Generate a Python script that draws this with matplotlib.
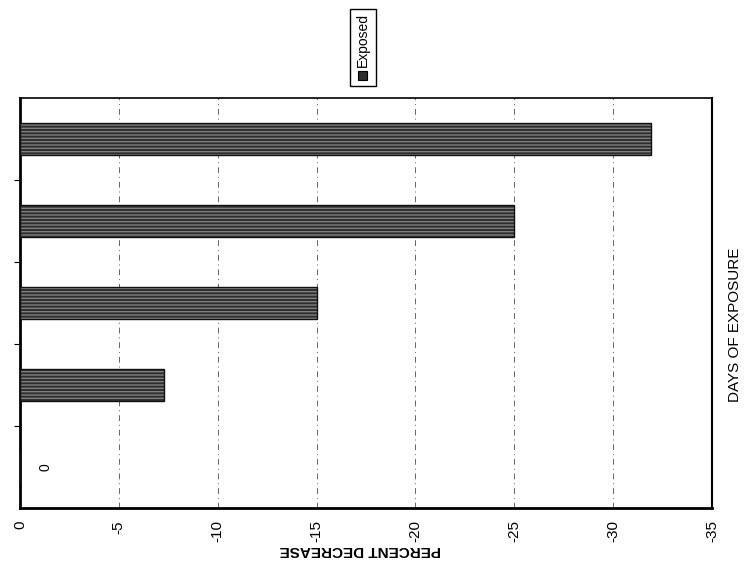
import matplotlib
matplotlib.use("Agg")
import matplotlib.pyplot as plt
from matplotlib.patches import Rectangle

plt.rcParams["font.family"] = ["Liberation Sans", "DejaVu Sans"]

# Data
categories = ["Day 0", "Day 1", "Day 2", "Day 3", "Day 4"]
exposed = [0.0, -7.3, -15.0, -25.0, -31.9]
x_ticks = [0, -5, -10, -15, -20, -25, -30, -35]
series_name = "Exposed"

fig = plt.figure(figsize=(7.54, 5.69), dpi=100)
ax = fig.add_axes([20 / 754, 61 / 569, 692 / 754, 410 / 569])

ypos = list(range(len(categories)))
bars = ax.barh(ypos, exposed, height=0.4, color="#2e2e2e", edgecolor="#111111",
               linewidth=1.0, hatch="-----", zorder=3)
for b in bars:
    b._hatch_color = (0.5, 0.5, 0.5, 1.0)

# zero value label
for y, v in zip(ypos, exposed):
    if v == 0:
        ax.text(-1.3, y, "0", rotation=90, ha="center", va="center", fontsize=10)

ax.set_xlim(0, -35)
ax.set_ylim(-0.5, len(categories) - 0.5)
ax.set_xticks(x_ticks)
ax.set_xticklabels([str(t) for t in x_ticks], rotation=90, fontsize=11)
ax.set_yticks([i + 0.5 for i in range(len(categories) - 1)])
ax.set_yticklabels([])
ax.tick_params(axis="y", length=4, direction="out")
ax.tick_params(axis="x", length=0, pad=9)

ax.grid(axis="x", color="#666666", linestyle=(0, (6, 4, 1, 4)), linewidth=0.7, zorder=1)

ax.spines["left"].set_linewidth(2.0)
ax.spines["bottom"].set_linewidth(2.0)
ax.spines["top"].set_linewidth(1.2)
ax.spines["right"].set_linewidth(1.5)

fig.text(360 / 754, 1 - 550 / 569, "PERCENT DECREASE", rotation=180, ha="center",
         va="center", fontsize=11, fontweight="bold")
fig.text(735 / 754, 1 - 325 / 569, "DAYS OF EXPOSURE", rotation=90, ha="center",
         va="center", fontsize=11)

# legend (rotated)
lx0, lx1, ly0, ly1 = 350, 376, 9, 86
fig.patches.append(Rectangle((lx0 / 754, 1 - ly1 / 569), (lx1 - lx0) / 754, (ly1 - ly0) / 569,
                             transform=fig.transFigure, facecolor="white",
                             edgecolor="black", linewidth=1.0))
fig.patches.append(Rectangle((358 / 754, 1 - 80 / 569), 9 / 754, 9 / 569,
                             transform=fig.transFigure, facecolor="#2e2e2e",
                             edgecolor="black", linewidth=0.8))
fig.text(363 / 754, 1 - 67 / 569, series_name, rotation=90, ha="center", va="bottom",
         fontsize=10)

fig.savefig("out.png", dpi=100)
